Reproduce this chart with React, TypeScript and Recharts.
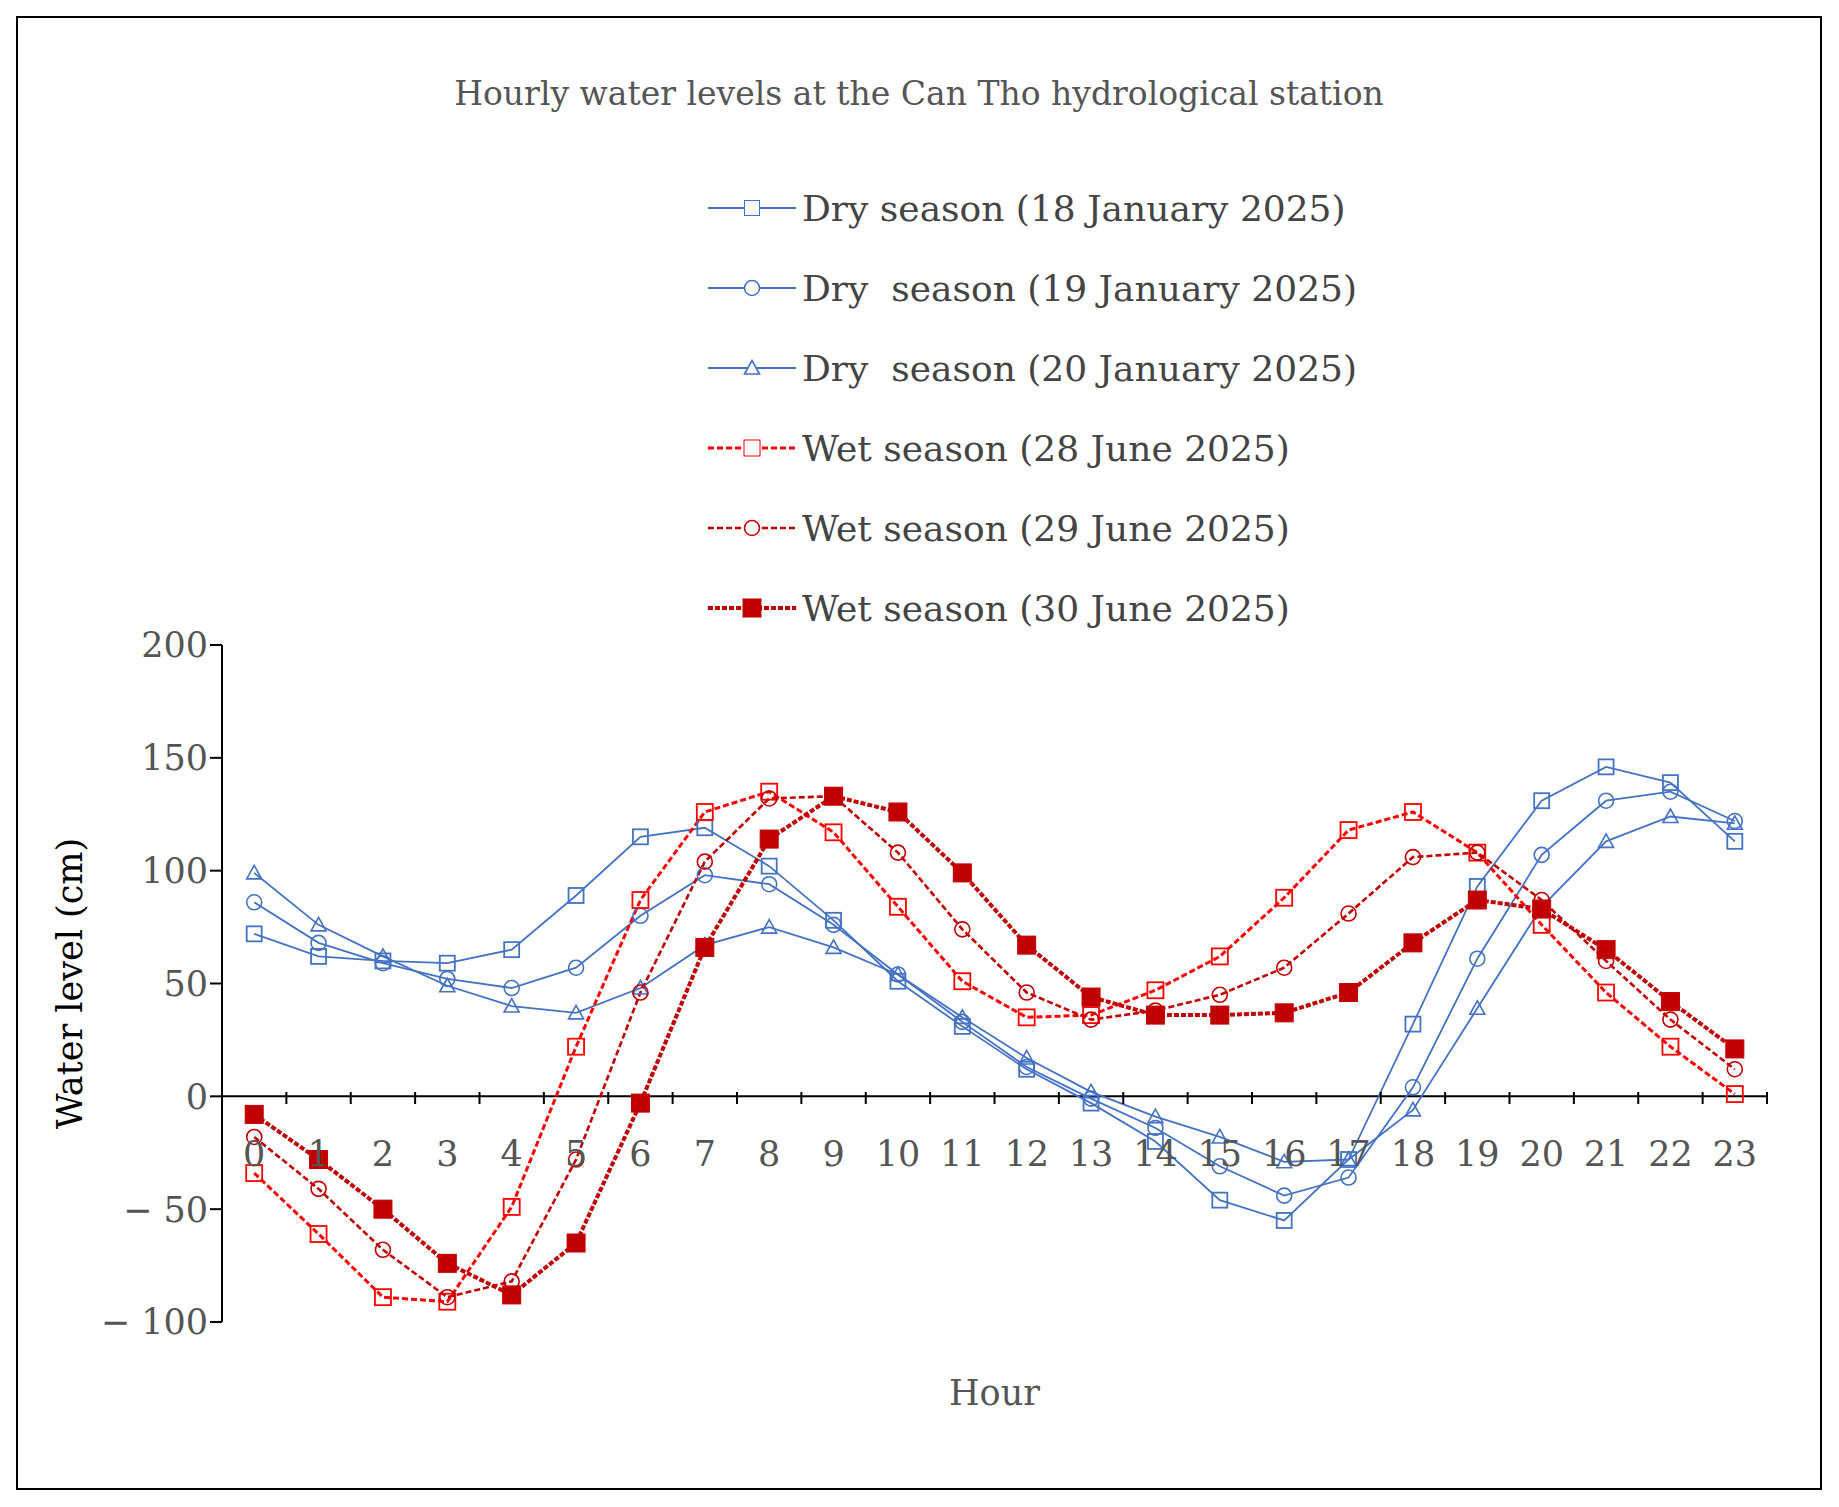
import React from 'react';
import { LineChart, Line, XAxis, YAxis, ReferenceLine } from 'recharts';

const hours = Array.from({ length: 24 }, (_, i) => String(i));
const dry18 = [72, 62, 60, 59, 65, 89, 115, 119, 102, 78, 51, 31, 12, -3, -20, -46, -55, -28, 32, 93, 131, 146, 139, 113];
const dry19 = [86, 68, 59, 52, 48, 57, 80, 98, 94, 76, 54, 33, 13, -1, -14, -31, -44, -36, 4, 61, 107, 131, 135, 122];
const dry20 = [99, 76, 62, 49, 40, 37, 48, 67, 75, 66, 54, 35, 17, 2, -9, -18, -29, -28, -6, 39, 84, 113, 124, 121];
const wet28 = [-34, -61, -89, -91, -49, 22, 87, 126, 135, 117, 84, 51, 35, 36, 47, 62, 88, 118, 126, 108, 76, 46, 22, 1];
const wet29 = [-18, -41, -68, -89, -82, -28, 46, 104, 132, 133, 108, 74, 46, 34, 38, 45, 57, 81, 106, 108, 87, 60, 34, 12];
const wet30 = [-8, -28, -50, -74, -88, -65, -3, 66, 114, 133, 126, 99, 67, 44, 36, 36, 37, 46, 68, 87, 83, 65, 42, 21];
const yTicks = [-100, -50, 0, 50, 100, 150, 200];

const data = hours.map((h, i) => ({
  hour: h, dry18: dry18[i], dry19: dry19[i], dry20: dry20[i],
  wet28: wet28[i], wet29: wet29[i], wet30: wet30[i],
}));

const BLUE = '#4472C4';
const RED = '#FF0000';
const DARK = '#C00000';
const FONT = '"DejaVu Serif", serif';

const series = [
  { key: 'dry18', name: 'Dry season (18 January 2025)', color: BLUE, width: 1.8, dash: undefined, shape: 'square', fill: 'none', size: 15 },
  { key: 'dry19', name: 'Dry  season (19 January 2025)', color: BLUE, width: 1.8, dash: undefined, shape: 'circle', fill: 'none', size: 15 },
  { key: 'dry20', name: 'Dry  season (20 January 2025)', color: BLUE, width: 1.8, dash: undefined, shape: 'triangle', fill: 'none', size: 15 },
  { key: 'wet28', name: 'Wet season (28 June 2025)', color: RED, width: 3, dash: '6 3', shape: 'square', fill: 'none', size: 16 },
  { key: 'wet29', name: 'Wet season (29 June 2025)', color: DARK, width: 2.6, dash: '6 3', shape: 'circle', fill: 'none', size: 15 },
  { key: 'wet30', name: 'Wet season (30 June 2025)', color: DARK, width: 4, dash: '5 2', shape: 'square', fill: DARK, size: 18 },
];

function marker(shape: string, cx: number, cy: number, size: number, color: string, fill: string, key?: any) {
  const h = size / 2;
  if (shape === 'circle') return <circle key={key} cx={cx} cy={cy} r={h} stroke={color} strokeWidth={1.6} fill={fill} />;
  if (shape === 'triangle')
    return <polygon key={key} points={`${cx},${cy - h} ${cx + h},${cy + h * 0.8} ${cx - h},${cy + h * 0.8}`} stroke={color} strokeWidth={1.6} fill={fill} />;
  return <rect key={key} x={cx - h} y={cy - h} width={size} height={size} stroke={color} strokeWidth={fill === 'none' ? 1.8 : 1} fill={fill} />;
}

const PLOT_W = 1545;
const BAND = PLOT_W / 24;
const ZERO_SHIFT = 226;

const HourTick = (props: any) => {
  const { x, y, payload } = props;
  const y0 = y - ZERO_SHIFT;
  return (
    <g>
      <line x1={x + BAND / 2} x2={x + BAND / 2} y1={y0} y2={y0 - 12} stroke="#000" strokeWidth={2} />
      <text x={x} y={y0 + 62} textAnchor="middle" fill="#555" fontSize={35} fontFamily={FONT}>{payload.value}</text>
    </g>
  );
};

const LegendBox = () => (
  <div style={{ position: 'absolute', top: 150, left: 690, fontFamily: FONT, fontSize: 36, color: '#444' }}>
    {series.map((s) => (
      <div key={s.key} style={{ display: 'flex', alignItems: 'center', height: 80 }}>
        <svg width={88} height={30} style={{ marginRight: 6 }}>
          <line x1={0} x2={88} y1={15} y2={15} stroke={s.color} strokeWidth={s.width} strokeDasharray={s.dash} />
          {marker(s.shape, 44, 15, s.size, s.color, s.fill === 'none' ? '#fff' : s.fill)}
        </svg>
        <span style={{ whiteSpace: 'pre' }}>{s.name}</span>
      </div>
    ))}
  </div>
);

export default function App() {
  return (
    <div style={{ position: 'absolute', left: 16, top: 16, width: 1802, height: 1470, border: '2px solid #000', background: '#fff' }}>
      <div style={{ position: 'absolute', top: 56, width: '100%', textAlign: 'center', fontFamily: FONT, fontSize: 33, color: '#555' }}>
        Hourly water levels at the Can Tho hydrological station
      </div>
      <div style={{ position: 'absolute', top: 1355, left: 204, width: PLOT_W, textAlign: 'center', fontFamily: FONT, fontSize: 35, color: '#555' }}>
        Hour
      </div>
      <LegendBox />
      <div style={{ position: 'absolute', left: 0, top: 0 }}>
        <LineChart width={1802} height={1470} data={data} margin={{ top: 627, right: 53, bottom: 165, left: 124 }}>
          <XAxis dataKey="hour" axisLine={false} tickLine={false} tick={<HourTick />} height={1} interval={0}
            padding={{ left: BAND / 2, right: BAND / 2 }} />
          <YAxis
            domain={[-100, 200]} ticks={yTicks} width={80} interval={0}
            axisLine={{ stroke: '#000', strokeWidth: 2 }} tickLine={{ stroke: '#000', strokeWidth: 2 }} tickSize={12}
            tick={{ fill: '#555', fontSize: 35, fontFamily: FONT }}
            tickFormatter={(v: number) => (v < 0 ? `− ${-v}` : String(v))}
            label={{ value: 'Water level (cm)', angle: -90, position: 'insideLeft', offset: -72, fill: '#000', fontSize: 35, fontFamily: FONT, style: { textAnchor: 'middle' } }}
          />
          <ReferenceLine y={0} stroke="#000" strokeWidth={2} />
          {series.map((s) => (
            <Line
              key={s.key} dataKey={s.key} name={s.name} type="linear" stroke={s.color} strokeWidth={s.width}
              strokeDasharray={s.dash} isAnimationActive={false}
              dot={(p: any) => marker(s.shape, p.cx, p.cy, s.size, s.color, s.fill, p.key ?? p.index)}
              activeDot={false}
            />
          ))}
        </LineChart>
      </div>
    </div>
  );
}
